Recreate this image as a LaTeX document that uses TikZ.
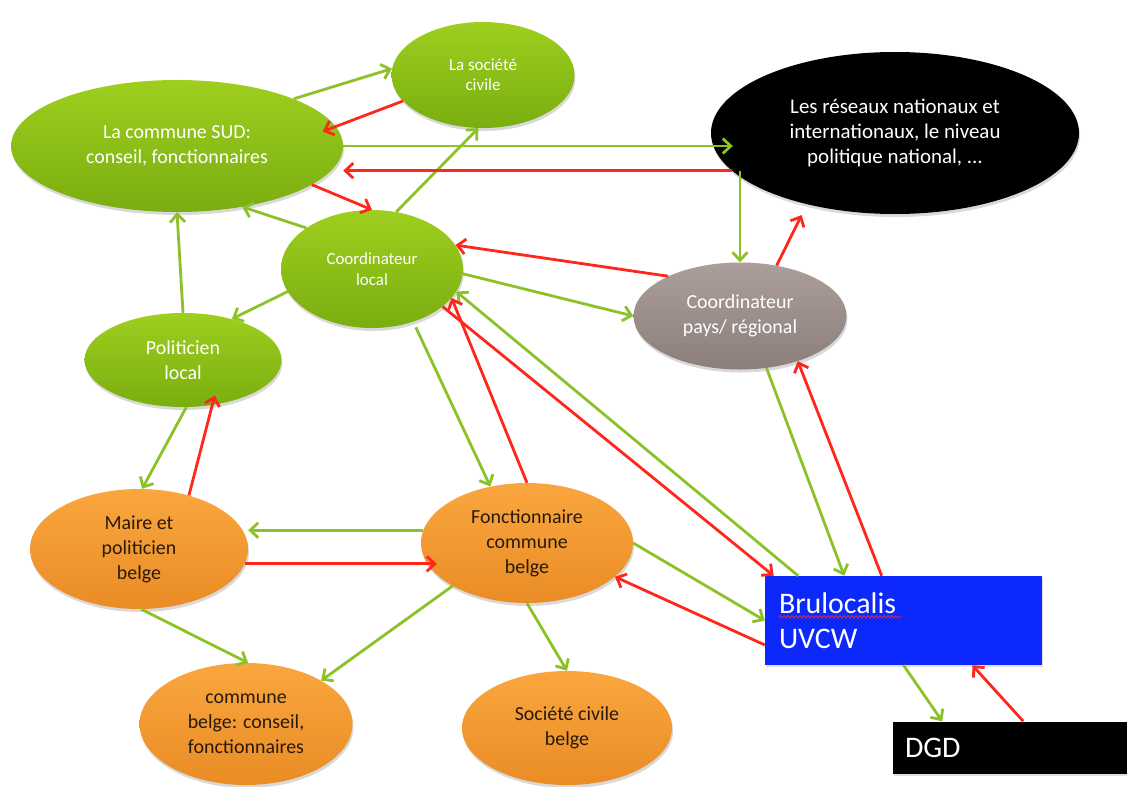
\documentclass[tikz,border=0pt]{standalone}
\usepackage{fontspec}
\setmainfont{Carlito}
\usepackage{tikz}
\usetikzlibrary{shapes.geometric,arrows.meta,shadows,decorations.pathmorphing}
\definecolor{greenA}{RGB}{158,206,30}
\definecolor{greenB}{RGB}{122,174,16}
\definecolor{orangeA}{RGB}{250,166,62}
\definecolor{orangeB}{RGB}{234,140,38}
\definecolor{greyA}{RGB}{172,158,154}
\definecolor{greyB}{RGB}{140,126,122}
\definecolor{bluebox}{RGB}{12,40,250}
\definecolor{agreen}{RGB}{140,194,40}
\definecolor{ared}{RGB}{255,38,28}
\definecolor{darktext}{RGB}{40,26,10}

\begin{document}
\begin{tikzpicture}[
    x=1bp, y=-1bp,
    ell/.style={ellipse,inner sep=0pt,align=center,font=\fontsize{20}{25}\selectfont,
      drop shadow={shadow xshift=1bp,shadow yshift=-3bp,opacity=.3}},
    greenell/.style={ell,top color=greenA,bottom color=greenB,text=white},
    orangeell/.style={ell,top color=orangeA,bottom color=orangeB,text=darktext},
    greyell/.style={ell,top color=greyA,bottom color=greyB,text=white},
    blackell/.style={ell,fill=black,text=white,font=\fontsize{21}{25.5}\selectfont},
    flatbox/.style={rectangle,inner ysep=0pt,inner xsep=14bp,align=left,text=white,
      font=\fontsize{30}{35}\selectfont,
      drop shadow={shadow xshift=1bp,shadow yshift=-2bp,opacity=.25}},
    arrow/.style={-{Straight Barb[length=8bp,width=15bp]},line width=2.8bp},
    garrow/.style={arrow,draw=agreen},
    rarrow/.style={arrow,draw=ared},
    spell/.style={draw=ared,line width=0.8bp,decorate,decoration={snake,amplitude=1.2bp,segment length=4bp}}
  ]
    \useasboundingbox (0,0) rectangle (1127,787);
    \node[greenell,minimum width=332bp,minimum height=132bp] (sud) at (177,146) {La commune SUD:\\conseil, fonctionnaires};
    \node[greenell,minimum width=183bp,minimum height=106bp,font=\fontsize{17}{20.5}\selectfont] (soc) at (483,75) {La société\\civile};
    \node[blackell,minimum width=368bp,minimum height=162bp] (res) at (895,133) {Les réseaux nationaux et\\internationaux, le niveau\\politique national, ...};
    \node[greenell,minimum width=182bp,minimum height=118bp,font=\fontsize{17}{20.5}\selectfont] (cloc) at (372,269) {Coordinateur\\local};
    \node[greyell,minimum width=213bp,minimum height=107bp] (cpays) at (740,316) {Coordinateur\\pays/ régional};
    \node[greenell,minimum width=197bp,minimum height=94bp] (pol) at (183,360) {Politicien\\local};
    \node[orangeell,minimum width=218bp,minimum height=120bp] (maire) at (139,549) {Maire et\\politicien\\belge};
    \node[orangeell,minimum width=212bp,minimum height=120bp] (fonc) at (527,543) {Fonctionnaire\\commune\\belge};
    \node[orangeell,minimum width=213bp,minimum height=122bp] (cbel) at (246,724) {commune\\belge: conseil,\\fonctionnaires};
    \node[orangeell,minimum width=210bp,minimum height=114bp] (scb) at (567,728) {Société civile\\belge};
    \node[flatbox,fill=bluebox,minimum width=277bp,minimum height=89bp,text width=249bp] (bru) at (903.5,620.5) {Brulocalis\\UVCW};
    \node[flatbox,fill=black,inner xsep=12bp,minimum width=235bp,minimum height=52bp,text width=211bp] (dgd) at (1010.5,747.5) {DGD};
    \draw[spell] (bru.north west) ++(14,41) -- ++(122,0);
    % green links
    \draw[garrow] (sud.22) -- (soc.176);
    \draw[garrow,shorten >=-22bp] (sud.east) -- (sud.east -| res.west);
    \draw[garrow] (cloc.148) -- (sud.-43);
    \draw[garrow] (cloc.67) -- (soc.-95);
    \draw[garrow] (res.193 -| cpays.north) -- (cpays.north);
    \draw[garrow] (cloc.-3) -- (cpays.west);
    \draw[garrow] (cloc.195) -- (pol.40);
    \draw[garrow] (pol.north) -- (sud.south);
    \draw[garrow] (pol.-86) -- (maire.87);
    \draw[garrow,shorten <=6bp] (cloc.-52) -- (fonc.123);
    \draw[garrow] (bru.157) -- (cloc.-15);
    \draw[garrow] (cpays.-63) -- (bru.143);
    \draw[garrow] (fonc.173) -- (fonc.173 -| maire.east);
    \draw[garrow] (fonc.east) -- (bru.west);
    \draw[garrow] (maire.-88) -- (cbel.88);
    \draw[garrow] (fonc.210) -- (cbel.30);
    \draw[garrow] (fonc.south) -- (scb.north);
    \draw[garrow] (bru.south) -- (dgd.159);
    % red links
    \draw[rarrow,shorten >=-14bp] (soc.198) -- (sud.7);
    \draw[rarrow] (res.193) -- (res.193 -| sud.east);
    \draw[rarrow] (sud.-16) -- (cloc.north);
    \draw[rarrow] (cpays.151) -- (cloc.16);
    \draw[rarrow,shorten >=12bp] (cpays.54) -- (res.219);
    \draw[rarrow,shorten >=-10bp] (maire.47) -- (pol.-57);
    \draw[rarrow] (fonc.north) -- (cloc.-20);
    \draw[rarrow] (cloc.-28) -- (bru.161);
    \draw[rarrow] (bru.116) -- (cpays.-38);
    \draw[rarrow,shorten >=-16bp] (maire.-8) -- (maire.-8 -| fonc.west);
    \draw[rarrow] (bru.190) -- (fonc.-21);
    \draw[rarrow] (dgd.64) -- (bru.-33);
  \end{tikzpicture}
\end{document}
